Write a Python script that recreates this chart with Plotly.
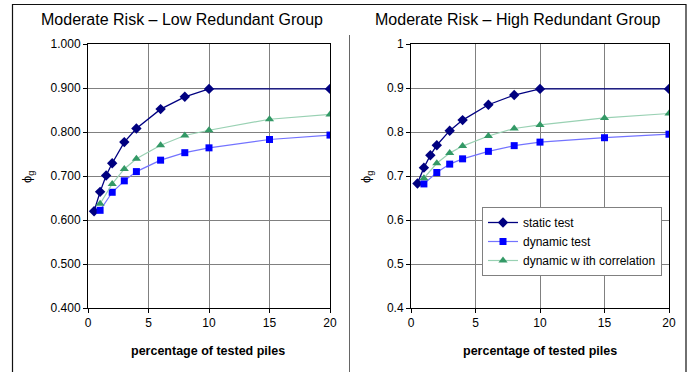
import plotly.graph_objects as go

W, H = 689, 372

x_static = [0.5, 1, 1.5, 2, 3, 4, 6, 8, 10, 20]
x_dyn = [1, 2, 3, 4, 6, 8, 10, 15, 20]

low_static = [0.620, 0.664, 0.701, 0.729, 0.777, 0.808, 0.852, 0.880, 0.898, 0.898]
low_dynamic = [0.622, 0.663, 0.689, 0.710, 0.736, 0.753, 0.764, 0.783, 0.793]
low_corr = [0.637, 0.682, 0.716, 0.739, 0.770, 0.792, 0.804, 0.829, 0.840]

high_static = [0.683, 0.719, 0.747, 0.770, 0.803, 0.827, 0.862, 0.884, 0.898, 0.898]
high_dynamic = [0.682, 0.708, 0.727, 0.739, 0.756, 0.769, 0.777, 0.787, 0.795]
high_corr = [0.695, 0.729, 0.752, 0.768, 0.791, 0.808, 0.816, 0.832, 0.842]

y_ticks = [0.4, 0.5, 0.6, 0.7, 0.8, 0.9, 1.0]
y_text_low = ["0.400", "0.500", "0.600", "0.700", "0.800", "0.900", "1.000"]
y_text_high = ["0.4", "0.5", "0.6", "0.7", "0.8", "0.9", "1"]
x_ticks = [0, 5, 10, 15, 20]

titles = ["Moderate Risk \u2013 Low Redundant Group", "Moderate Risk \u2013 High Redundant Group"]
names = ["static test", "dynamic test", "dynamic w ith correlation"]

C_STATIC = "#000080"
C_DYN_LINE = "#7373ff"
C_DYN_MK = "#0000ff"
C_COR_LINE = "#99d1b3"
C_COR_MK = "#339966"

FONT = "Liberation Sans, Arial"

fig = go.Figure()

# page frame drawn on an invisible full-page pixel axis (decoration only)
fig.add_trace(go.Scatter(x=[12.5, 12.5, 686, 686],
                         y=[380, 4.5, 4.5, 380],
                         xaxis="x3", yaxis="y3", mode="lines", showlegend=False, hoverinfo="skip",
                         line=dict(color="#111111", width=1.2), cliponaxis=False))
fig.add_trace(go.Scatter(x=[349.5, 349.5], y=[35, 380],
                         xaxis="x3", yaxis="y3", mode="lines", showlegend=False, hoverinfo="skip",
                         line=dict(color="#666666", width=1), cliponaxis=False))


def add_set(xa, ya, s, d, c, show):
    fig.add_trace(go.Scatter(x=x_static, y=s, xaxis=xa, yaxis=ya, name=names[0], showlegend=show,
                             mode="lines+markers", line=dict(color=C_STATIC, width=1.3),
                             marker=dict(symbol="diamond", size=8, color=C_STATIC)))
    fig.add_trace(go.Scatter(x=x_dyn, y=d, xaxis=xa, yaxis=ya, name=names[1], showlegend=show,
                             mode="lines+markers", line=dict(color=C_DYN_LINE, width=1.2),
                             marker=dict(symbol="square", size=7, color=C_DYN_MK)))
    fig.add_trace(go.Scatter(x=x_dyn, y=c, xaxis=xa, yaxis=ya, name=names[2], showlegend=show,
                             mode="lines+markers", line=dict(color=C_COR_LINE, width=1.2),
                             marker=dict(symbol="triangle-up", size=8, color=C_COR_MK)))

add_set("x", "y", low_static, low_dynamic, low_corr, False)
add_set("x2", "y2", high_static, high_dynamic, high_corr, True)

def px(v):
    return v / W

def py(v):
    return 1 - v / H

axis_common = dict(showgrid=True, gridcolor="#808080", gridwidth=1, showline=True, linecolor="#000000",
                   linewidth=1, mirror=True, ticks="outside", ticklen=4, tickcolor="#000000",
                   zeroline=False, automargin=False, tickfont=dict(family=FONT, size=12, color="#000000"))

fig.update_layout(
    width=W, height=H,
    margin=dict(l=0, r=0, t=0, b=0),
    paper_bgcolor="white", plot_bgcolor="rgba(0,0,0,0)",
    xaxis=dict(domain=[px(88), px(330)], range=[0, 20], tickvals=x_ticks, anchor="y", **axis_common),
    yaxis=dict(domain=[py(308), py(44)], range=[0.4, 1.0], tickvals=y_ticks, ticktext=y_text_low, anchor="x", **axis_common),
    xaxis2=dict(domain=[px(411), px(669)], range=[0, 20], tickvals=x_ticks, anchor="y2", **axis_common),
    yaxis2=dict(domain=[py(308), py(44)], range=[0.4, 1.0], tickvals=y_ticks, ticktext=y_text_high, anchor="x2", **axis_common),
    xaxis3=dict(domain=[0, 1], range=[0, W], visible=False, anchor="y3", fixedrange=True),
    yaxis3=dict(domain=[0, 1], range=[H, 0], visible=False, anchor="x3", fixedrange=True),
    legend=dict(x=px(482), y=py(207), xanchor="left", yanchor="top", bgcolor="white",
                bordercolor="#808080", borderwidth=1,
                font=dict(family=FONT, size=12, color="#000000")),
    showlegend=True,
)

font_t = dict(family=FONT, size=16, color="#000000")
font_x = dict(family=FONT, size=12.5, color="#000000")
for cx, t in zip([182, 518], titles):
    fig.add_annotation(x=px(cx), y=py(20), xref="paper", yref="paper", text=t, showarrow=False,
                       font=font_t, xanchor="center", yanchor="middle")
for cx in [208, 540]:
    fig.add_annotation(x=px(cx), y=py(351), xref="paper", yref="paper", text="<b>percentage of tested piles</b>",
                       showarrow=False, font=font_x, xanchor="center", yanchor="middle")
for cx in [27, 366]:
    fig.add_annotation(x=px(cx), y=py(177), xref="paper", yref="paper", text="\u03d5<sub>g</sub>",
                       showarrow=False, textangle=-90,
                       font=dict(family=FONT, size=13, color="#000000"),
                       xanchor="center", yanchor="middle")

fig.write_html("out.html", config={"displayModeBar": False},
               post_script="document.body.style.margin='0';document.body.style.padding='0';")
